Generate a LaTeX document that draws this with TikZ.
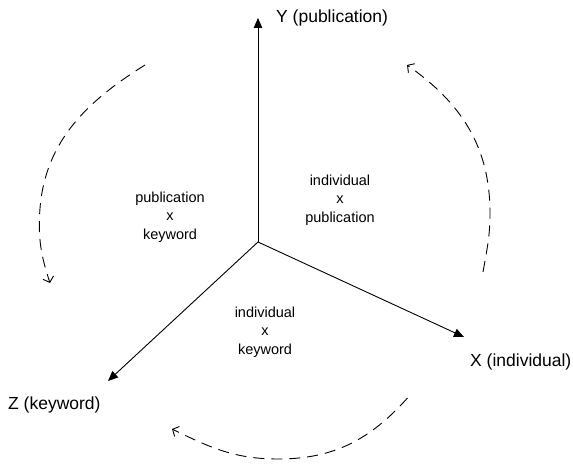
\documentclass[tikz,border=0pt]{standalone}
\usepackage{fontspec}
\setmainfont{Liberation Sans}
\usetikzlibrary{arrows.meta}
\begin{document}
\begin{tikzpicture}[x=1pt,y=1pt,
  axis/.style={line width=0.9pt,-{Triangle[length=10pt,width=8.5pt]}},
  turn/.style={line width=0.9pt,dash pattern=on 11pt off 7pt,-{Straight Barb[length=5pt,width=11pt,line width=0.9pt]}},
  axislabel/.style={inner sep=0pt,anchor=base west,font=\fontsize{17.5}{21}\selectfont},
  planelabel/.style={inner sep=0pt,align=center,font=\fontsize{14.5}{18.5}\selectfont}]
\useasboundingbox (0,0) rectangle (573,464);
% axes
\coordinate (O) at (258,222);
\coordinate (Ytip) at (258,446);
\coordinate (Xtip) at (464,127);
\coordinate (Ztip) at (108,83);
\draw[axis] (O) -- (Ytip);
\draw[axis] (O) -- (Xtip);
\draw[axis] (O) -- (Ztip);
\node[axislabel] (Ylab) at (276,441) {Y (publication)};
\node[axislabel] (Xlab) at (470,98) {X (individual)};
\node[axislabel] (Zlab) at (8,55) {Z (keyword)};
% plane labels
\node[planelabel] (PK) at (170,247) {publication\\x\\keyword};
\node[planelabel] (IP) at (340,264) {individual\\x\\publication};
\node[planelabel] (IK) at (265,132) {individual\\x\\keyword};
% rotation arcs
\coordinate (Ls) at (145,399);
\coordinate (Lm) at (39.5,247);
\coordinate (Le) at (50,181);
\draw[turn] (Ls) to[out=212,in=88] (Lm) to[out=268,in=108] (Le);
\coordinate (Rs) at (483,192);
\coordinate (Rm) at (490,251);
\coordinate (Re) at (407,399);
\draw[turn] (Rs) to[out=80,in=270] (Rm) to[out=90,in=325] (Re);
\coordinate (Bs) at (407.5,66);
\coordinate (Bm) at (278,5);
\coordinate (Be) at (172,35);
\draw[turn] (Bs) to[out=228,in=0] (Bm) to[out=180,in=334] (Be);
\end{tikzpicture}
\end{document}
